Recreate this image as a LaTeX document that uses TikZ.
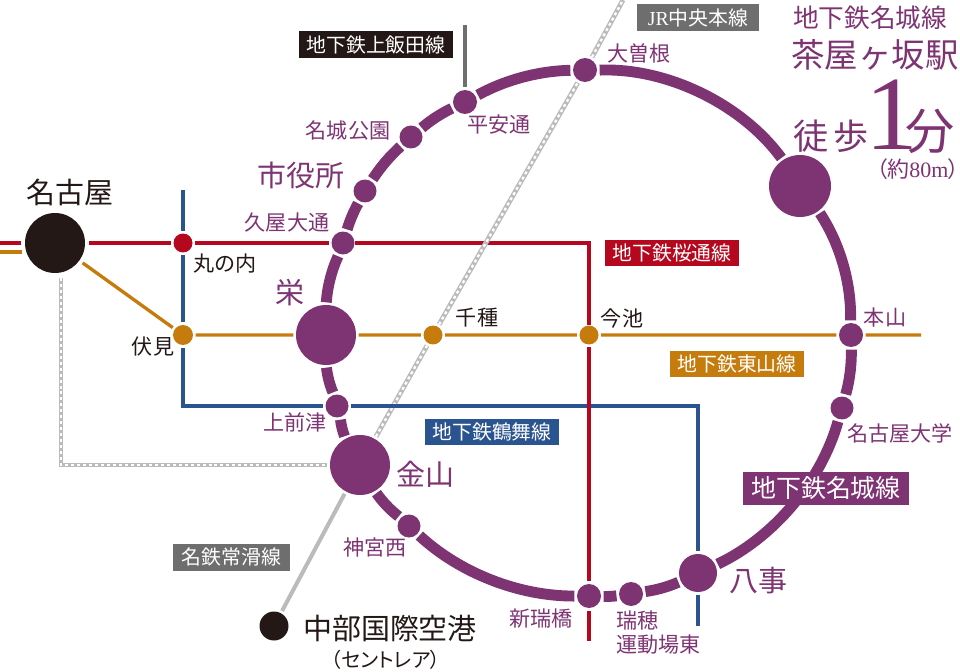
\documentclass[tikz,border=0pt]{standalone}
\usepackage{fontspec}
\setmainfont{Noto Sans CJK JP}
\newfontfamily\latinserif{Liberation Serif}
\newfontfamily\paltfont[RawFeature=+palt]{Noto Sans CJK JP}

\definecolor{meijopurple}{HTML}{7E3372}
\definecolor{sakurared}{HTML}{B5081F}
\definecolor{higashiorange}{HTML}{C67C0C}
\definecolor{tsurumaiblue}{HTML}{2A5490}
\definecolor{jrgrey}{HTML}{BBBBBB}
\definecolor{boxgrey}{HTML}{6E6E6E}
\definecolor{nearblack}{HTML}{231815}

\tikzset{
    station/.style={circle, fill=meijopurple, inner sep=0pt, outer sep=1.5pt, minimum size=#1},
    ringline/.style={draw=meijopurple, line width=6.2pt, looseness=.85},
    thinline/.style={draw=#1, line width=1.9pt},
    railline/.style={draw=jrgrey, line width=2.8pt, postaction={draw=white, line width=1.3pt, dash pattern=on 1.7pt off 1.7pt}},
    stationtext/.style={inner sep=0pt, text=meijopurple, font=\fontsize{12}{12}\selectfont},
    blacktext/.style={inner sep=0pt, text=nearblack, font=\fontsize{12}{12}\selectfont},
    bigtext/.style={inner sep=0pt, text=#1, font=\fontsize{16.5}{16.5}\selectfont},
    linebox/.style={fill=#1, text=white, inner sep=0pt, minimum height=.54cm, font=\fontsize{11.3}{11.3}\selectfont},
}

\begin{document}
\begin{tikzpicture}[x=0.02cm, y=-0.02cm]
    \useasboundingbox (0,0) rectangle (960,672);

    % stations on the ring
    \node[station=.48cm] (ozone) at (585,70) {};
    \node[station=1.24cm] (chayagasaka) at (800,186) {};
    \node[station=.48cm] (motoyama) at (851,335) {};
    \node[station=.46cm] (meidai) at (842,408) {};
    \node[station=.76cm] (yagoto) at (698,573) {};
    \node[station=.48cm] (mizuho) at (631,594) {};
    \node[station=.48cm] (aratama) at (589,596) {};
    \node[station=.46cm] (jingu) at (409,526) {};
    \node[station=1.2cm] (kanayama) at (360,465) {};
    \node[station=.46cm] (kamimaezu) at (337,406) {};
    \node[station=1.2cm] (sakae) at (326,335) {};
    \node[station=.46cm] (hisaya) at (343,243) {};
    \node[station=.46cm] (shiyakusho) at (365,191) {};
    \node[station=.46cm] (meijokoen) at (411,137) {};
    \node[station=.48cm] (heian) at (465,102) {};

    % other stations
    \node[station=1.2cm, fill=nearblack, outer sep=2.3pt] (nagoya) at (55,243) {};
    \node[station=.38cm, fill=sakurared] (marunouchi) at (183,243) {};
    \node[station=.4cm, fill=higashiorange] (fushimi) at (183,335) {};
    \node[station=.38cm, fill=higashiorange] (chikusa) at (433,335) {};
    \node[station=.38cm, fill=higashiorange] (imaike) at (589,335) {};
    \node[station=.58cm, fill=nearblack] (centrair) at (274,626) {};

    % free ends and corners
    \coordinate (redwest) at (0,243);
    \coordinate (redstub) at (21,243);
    \coordinate (orangewest) at (0,252);
    \coordinate (orangestub) at (22,252);
    \coordinate (orangeeast) at (921,335);
    \coordinate (redcorner) at (589,243);
    \coordinate (redend) at (589,641);
    \coordinate (bluetop) at (183,190);
    \coordinate (bluecornera) at (183,406);
    \coordinate (bluecornerb) at (698,406);
    \coordinate (blueend) at (698,626);
    \coordinate (greytop) at (61,278);
    \coordinate (greycorner) at (61,465);
    \coordinate (jrnorth) at (623,0);
    \coordinate (kamiiidatop) at (465,25);

    % meijo ring
    \draw[ringline] (ozone) to[bend left=28] (chayagasaka);
    \draw[ringline] (chayagasaka) to[bend left=17.3] (motoyama);
    \draw[ringline] (motoyama) to[bend left=8.3] (meidai);
    \draw[ringline] (meidai) to[bend left=24.5] (yagoto);
    \draw[ringline] (yagoto) to[bend left=7.8] (mizuho);
    \draw[ringline] (mizuho) to[bend left=4.5] (aratama);
    \draw[ringline] (aratama) to[bend left=21.5] (jingu);
    \draw[ringline] (jingu) to[bend left=8.5] (kanayama);
    \draw[ringline] (kanayama) to[bend left=7] (kamimaezu);
    \draw[ringline] (kamimaezu) to[bend left=8] (sakae);
    \draw[ringline] (sakae) to[bend left=10] (hisaya);
    \draw[ringline] (hisaya) to[bend left=6] (shiyakusho);
    \draw[ringline] (shiyakusho) to[bend left=7.5] (meijokoen);
    \draw[ringline] (meijokoen) to[bend left=7.3] (heian);
    \draw[ringline] (heian) to[bend left=13.7] (ozone);

    % other lines
    \draw[thinline=sakurared] (redwest) -- (redstub);
    \draw[thinline=sakurared] (nagoya) -- (marunouchi) -- (hisaya);
    \draw[thinline=sakurared, line cap=rect] (hisaya) -- (redcorner);
    \draw[thinline=higashiorange] (orangewest) -- (orangestub);
    \draw[thinline=higashiorange] (nagoya) -- (fushimi) -- (sakae) -- (chikusa) -- (imaike) -- (motoyama) -- (orangeeast);
    \draw[railline] (greytop) -- (greycorner) -- (kanayama);
    \draw[railline] (kanayama) -- (chikusa) -- (ozone) -- (jrnorth);
    \draw[draw=jrgrey, line width=2.3pt] (centrair) -- (kanayama);
    \draw[thinline=tsurumaiblue] (bluetop) -- (marunouchi) -- (fushimi) -- (bluecornera) -- (kamimaezu) -- (bluecornerb) -- (yagoto) -- (blueend);
    \draw[thinline=sakurared, line cap=rect] (redcorner) -- (imaike);
    \draw[thinline=sakurared] (imaike) -- (aratama) -- (redend);
    \draw[draw=boxgrey, line width=1.9pt] (kamiiidatop) -- (heian);

    % line names
    \node[linebox=nearblack, minimum width=3.08cm] (kamiiidabox) at (376,45) {地下鉄上飯田線};
    \node[linebox=boxgrey, minimum width=2.44cm] (jrbox) at (698,17.5) {{\latinserif JR}中央本線};
    \node[linebox=sakurared, minimum width=2.7cm] (sakurabox) at (672,253) {地下鉄桜通線};
    \node[linebox=higashiorange, minimum width=2.7cm] (higashibox) at (737,364) {地下鉄東山線};
    \node[linebox=tsurumaiblue, minimum width=2.7cm] (tsurumaibox) at (492,432) {地下鉄鶴舞線};
    \node[linebox=meijopurple, minimum width=3.32cm, minimum height=.66cm, font=\fontsize{14.2}{14.2}\selectfont] (meijobox) at (826,488.5) {地下鉄名城線};
    \node[linebox=boxgrey, minimum width=2.34cm] (meitetsubox) at (231.5,557) {名鉄常滑線};

    % station names
    \node[stationtext] (ozonetext) at (639,53) {大曽根};
    \node[stationtext] (heiantext) at (499,125) {平安通};
    \node[stationtext] (meijotext) at (348,131) {名城公園};
    \node[bigtext=meijopurple] (shiyakushotext) at (301,175) {市役所};
    \node[stationtext] (hisayatext) at (287,223) {久屋大通};
    \node[bigtext=meijopurple] (sakaetext) at (290,293) {栄};
    \node[stationtext] (kamimaezutext) at (295,422) {上前津};
    \node[bigtext=meijopurple] (kanayamatext) at (425,474) {金山};
    \node[stationtext] (jingutext) at (375,547) {神宮西};
    \node[stationtext] (aratamatext) at (541,619) {新瑞橋};
    \node[stationtext, anchor=west, align=left, font=\fontsize{12}{13.7}\selectfont] (mizuhotext) at (616,633) {瑞穂\\運動場東};
    \node[bigtext=meijopurple] (yagototext) at (758,581) {八事};
    \node[stationtext] (meidaitext) at (900,433) {名古屋大学};
    \node[stationtext] (motoyamatext) at (885,317) {本山};
    \node[blacktext] (marunouchitext) at (225,264) {丸の内};
    \node[blacktext] (fushimitext) at (153,347) {伏見};
    \node[blacktext] (chikusatext) at (477,318) {千種};
    \node[blacktext] (imaiketext) at (622,318) {今池};
    \node[bigtext=nearblack] (nagoyatext) at (70,192) {名古屋};
    \node[bigtext=nearblack] (centrairtext) at (390,628) {中部国際空港};
    \node[blacktext, font=\paltfont\fontsize{11.5}{11.5}\selectfont] (centrairsub) at (386,660) {（セントレア）};

    % station heading
    \node[stationtext, font=\fontsize{14.6}{14.6}\selectfont] (headone) at (870,18) {地下鉄名城線};
    \node[stationtext, font=\fontsize{19}{19}\selectfont] (headtwo) at (875,55) {茶屋ヶ坂駅};
    \node[stationtext, anchor=base west, font=\fontsize{20}{20}\selectfont] (headthree) at (793,150) {徒\hspace{.1cm}歩\hspace{-.06cm}{\latinserif\fontsize{60}{60}\selectfont 1}\hspace{-.26cm}{\fontsize{28}{28}\selectfont 分}};
    \node[stationtext, font=\paltfont\fontsize{12.5}{12.5}\selectfont] (headfour) at (918,169) {（約{\latinserif 80m}）};
\end{tikzpicture}
\end{document}
